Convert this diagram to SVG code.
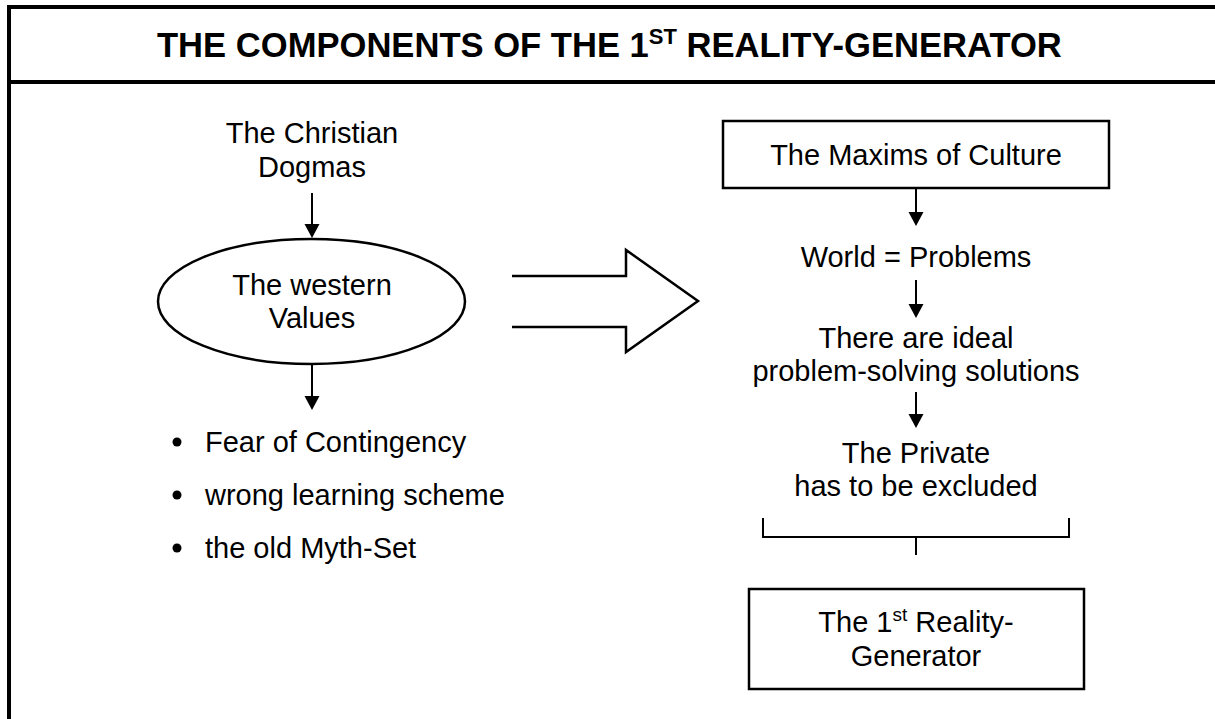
<svg xmlns="http://www.w3.org/2000/svg" width="1215" height="719" viewBox="0 0 1215 719">
<defs>
<style>
.t{font-family:"Liberation Sans",Arial,sans-serif;font-size:29px;fill:#000;text-anchor:middle}
.l{font-family:"Liberation Sans",Arial,sans-serif;font-size:29px;fill:#000}
.title{font-family:"Liberation Sans",Arial,sans-serif;font-size:34.6px;font-weight:bold;fill:#000}
.frame{stroke:#000;stroke-width:4;fill:none}
.shape{stroke:#000;stroke-width:2.5;fill:#fff}
.conn{stroke:#000;stroke-width:2;fill:none}
</style>
<marker id="ah" markerUnits="userSpaceOnUse" markerWidth="16" markerHeight="15" refX="7.5" refY="14" orient="auto-start-reverse" viewBox="0 0 15 14">
<path d="M0 0 L15 0 L7.5 14 Z" fill="#000"/>
</marker>
</defs>
<rect width="1215" height="719" fill="#fff"/>
<g id="frame">
<path class="frame" d="M9 719 V7 H1215"/>
<path class="frame" d="M9 82 H1215"/>
</g>
<g id="title">
<text class="title" x="157" y="57">THE COMPONENTS OF THE 1<tspan font-size="22px" dy="-13">ST</tspan><tspan dy="13"> REALITY-GENERATOR</tspan></text>
</g>
<g id="connectors">
<line class="conn" x1="312" y1="193" x2="312" y2="224"/>
<path d="M304.5 224 L319.5 224 L312 238 Z" fill="#000"/>
<line class="conn" x1="312" y1="364" x2="312" y2="396"/>
<path d="M304.5 396 L319.5 396 L312 410 Z" fill="#000"/>
<line class="conn" x1="916" y1="188" x2="916" y2="212"/>
<path d="M908.5 212 L923.5 212 L916 226 Z" fill="#000"/>
<line class="conn" x1="916" y1="280" x2="916" y2="304"/>
<path d="M908.5 304 L923.5 304 L916 318 Z" fill="#000"/>
<line class="conn" x1="916" y1="392" x2="916" y2="414"/>
<path d="M908.5 414 L923.5 414 L916 428 Z" fill="#000"/>
<path class="conn" d="M763 518 V537 H1069 V518"/>
<line class="conn" x1="916" y1="537" x2="916" y2="555"/>
</g>
<g id="christian-dogmas">
<text class="t" x="312" y="143">The Christian</text>
<text class="t" x="312" y="177">Dogmas</text>
</g>
<g id="western-values">
<ellipse class="shape" cx="311.5" cy="301.5" rx="153.5" ry="62.5"/>
<text class="t" x="312" y="295">The western</text>
<text class="t" x="312" y="328">Values</text>
</g>
<g id="consequences">
<circle cx="177" cy="442" r="4.5" fill="#000"/>
<text class="l" x="205" y="452">Fear of Contingency</text>
<circle cx="177" cy="495" r="4.5" fill="#000"/>
<text class="l" x="205" y="505">wrong learning scheme</text>
<circle cx="177" cy="548" r="4.5" fill="#000"/>
<text class="l" x="205" y="558">the old Myth-Set</text>
</g>
<g id="block-arrow">
<path class="shape" d="M512 276 H626 V250 L698 301 L626 352 V327 H512" fill="#fff"/>
</g>
<g id="maxims">
<rect class="shape" x="723" y="121" width="386" height="67"/>
<text class="t" x="916" y="165">The Maxims of Culture</text>
</g>
<g id="world-problems">
<text class="t" x="916" y="267">World = Problems</text>
</g>
<g id="ideal-solutions">
<text class="t" x="916" y="348">There are ideal</text>
<text class="t" x="916" y="381">problem-solving solutions</text>
</g>
<g id="private-excluded">
<text class="t" x="916" y="463">The Private</text>
<text class="t" x="916" y="496">has to be excluded</text>
</g>
<g id="reality-generator">
<rect class="shape" x="749" y="589" width="335" height="100"/>
<text class="t" x="916" y="632">The 1<tspan font-size="19px" dy="-11">st</tspan><tspan dy="11"> Reality-</tspan></text>
<text class="t" x="916" y="666">Generator</text>
</g>
</svg>
